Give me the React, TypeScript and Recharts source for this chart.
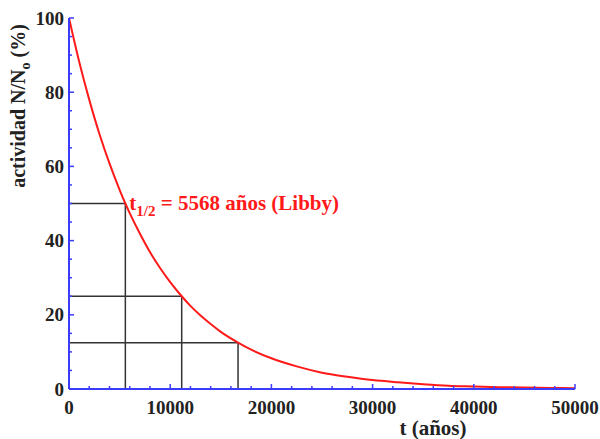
import { ComposedChart, Line, XAxis, YAxis, ReferenceLine, ReferenceDot } from 'recharts';

// t in years, activity N/No in %
const years = [
  0, 1000, 2000, 3000, 4000, 5000, 5568, 6000, 7000, 8000, 9000, 10000, 11136,
  12000, 13000, 14000, 15000, 16704, 18000, 20000, 22500, 25000, 27500, 30000,
  32500, 35000, 37500, 40000, 42500, 45000, 47500, 50000,
];
const activity = [
  100, 88.3, 78.0, 68.8, 60.8, 53.7, 50, 47.4, 41.9, 36.9, 32.6, 28.8, 25,
  22.4, 19.8, 17.5, 15.4, 12.5, 10.6, 8.3, 6.1, 4.4, 3.3, 2.4,
  1.8, 1.3, 0.9, 0.7, 0.5, 0.4, 0.3, 0.2,
];

// half-life marks: 1, 2 and 3 half-lives
const halfLifeYears = [5568, 11136, 16704];
const halfLifeLevels = [50, 25, 12.5];

const xTicks = [
  0, 2000, 4000, 6000, 8000, 10000, 12000, 14000, 16000, 18000, 20000, 22000,
  24000, 26000, 28000, 30000, 32000, 34000, 36000, 38000, 40000, 42000, 44000,
  46000, 48000, 50000,
];
const yTicks = [
  0, 5, 10, 15, 20, 25, 30, 35, 40, 45, 50, 55, 60, 65, 70, 75, 80, 85, 90, 95, 100,
];

const data = years.map((t, i) => ({ t, value: activity[i] }));

const BLUE = '#3c3cff';
const RED = '#ff1a1a';
const INK = '#222';
const FONT = '"Liberation Serif", "Times New Roman", serif';

const isMajorX = (v: number) => v % 10000 === 0;
const isMajorY = (v: number) => v % 20 === 0;

function BottomTick({ x, y, payload }: any) {
  const major = isMajorX(payload.value);
  return (
    <g>
      <line x1={x} y1={y} x2={x} y2={y - (major ? 5 : 3)} stroke={BLUE} strokeWidth={1.5} />
      {major && (
        <text x={x} y={y + 25} textAnchor="middle" fontFamily={FONT} fontWeight="bold" fontSize={19} fill={INK}>
          {payload.value}
        </text>
      )}
    </g>
  );
}

function TopTick({ x, y, payload }: any) {
  const major = isMajorX(payload.value);
  return <line x1={x} y1={y} x2={x} y2={y + (major ? 5 : 3)} stroke={BLUE} strokeWidth={1.5} />;
}

function LeftTick({ x, y, payload }: any) {
  const major = isMajorY(payload.value);
  return (
    <g>
      <line x1={x} y1={y} x2={x + (major ? 5 : 3)} y2={y} stroke={BLUE} strokeWidth={1.5} />
      {major && (
        <text x={x - 5} y={y + 6.5} textAnchor="end" fontFamily={FONT} fontWeight="bold" fontSize={19} fill={INK}>
          {payload.value}
        </text>
      )}
    </g>
  );
}

function RightTick({ x, y, payload }: any) {
  const major = isMajorY(payload.value);
  return <line x1={x} y1={y} x2={x - (major ? 5 : 3)} y2={y} stroke={BLUE} strokeWidth={1.5} />;
}

const YLabel = () => (
  <text
    transform="translate(25, 106) rotate(-90)"
    textAnchor="middle"
    fontFamily={FONT}
    fontWeight="bold"
    fontSize={20}
    fill={INK}
  >
    actividad N/N
    <tspan fontSize={14} dy={5}>o</tspan>
    <tspan dy={-5}> (%)</tspan>
  </text>
);

const XLabel = () => (
  <text x={433} y={435} textAnchor="middle" fontFamily={FONT} fontWeight="bold" fontSize={21} fill={INK}>
    t (años)
  </text>
);

const HalfLifeLabel = ({ viewBox }: any) => {
  const cx = viewBox?.cx ?? viewBox?.x ?? 0;
  const cy = viewBox?.cy ?? viewBox?.y ?? 0;
  return (
    <text x={cx + 4} y={cy + 6} fontFamily={FONT} fontWeight="bold" fontSize={21} fill={RED}>
      t
      <tspan fontSize={15} dy={6}>1/2</tspan>
      <tspan dy={-6}> = 5568 años (Libby)</tspan>
    </text>
  );
};

export default function App() {
  return (
    <div style={{ position: 'absolute', left: 0, top: 0, width: 600, height: 439, background: '#fff' }}>
      <ComposedChart width={600} height={439} data={data} margin={{ top: 18, right: 25, bottom: 0, left: 0 }}>
        <XAxis
          xAxisId="b"
          dataKey="t"
          type="number"
          domain={[0, 50000]}
          ticks={xTicks}
          interval={0}
          height={50}
          tickSize={0}
          tickMargin={0}
          tickLine={false}
          axisLine={{ stroke: BLUE, strokeWidth: 2 }}
          tick={<BottomTick />}
          label={<XLabel />}
        />
        <XAxis
          xAxisId="top"
          orientation="top"
          dataKey="t"
          type="number"
          domain={[0, 50000]}
          ticks={xTicks}
          interval={0}
          height={0}
          tickSize={0}
          tickMargin={0}
          tickLine={false}
          axisLine={{ stroke: BLUE, strokeWidth: 2 }}
          tick={<TopTick />}
        />
        <YAxis
          yAxisId="l"
          type="number"
          domain={[0, 100]}
          ticks={yTicks}
          interval={0}
          width={69}
          tickSize={0}
          tickMargin={0}
          tickLine={false}
          axisLine={{ stroke: BLUE, strokeWidth: 2 }}
          tick={<LeftTick />}
          label={<YLabel />}
        />
        <YAxis
          yAxisId="r"
          orientation="right"
          type="number"
          domain={[0, 100]}
          ticks={yTicks}
          interval={0}
          width={0}
          tickSize={0}
          tickMargin={0}
          tickLine={false}
          axisLine={{ stroke: BLUE, strokeWidth: 2 }}
          tick={<RightTick />}
        />
        {halfLifeYears.map((t, i) => (
          <ReferenceLine
            key={`h-${i}`}
            xAxisId="b"
            yAxisId="l"
            segment={[{ x: 0, y: halfLifeLevels[i] }, { x: t, y: halfLifeLevels[i] }]}
            stroke="#333"
            strokeWidth={1.5}
          />
        ))}
        {halfLifeYears.map((t, i) => (
          <ReferenceLine
            key={`v-${i}`}
            xAxisId="b"
            yAxisId="l"
            segment={[{ x: t, y: 0 }, { x: t, y: halfLifeLevels[i] }]}
            stroke="#333"
            strokeWidth={1.5}
          />
        ))}
        <Line
          xAxisId="b"
          yAxisId="l"
          dataKey="value"
          type="monotone"
          stroke={RED}
          strokeWidth={2}
          dot={false}
          isAnimationActive={false}
        />
        <ReferenceDot
          xAxisId="b"
          yAxisId="l"
          x={halfLifeYears[0]}
          y={halfLifeLevels[0]}
          r={0}
          fill="none"
          stroke="none"
          label={<HalfLifeLabel />}
        />
      </ComposedChart>
    </div>
  );
}
